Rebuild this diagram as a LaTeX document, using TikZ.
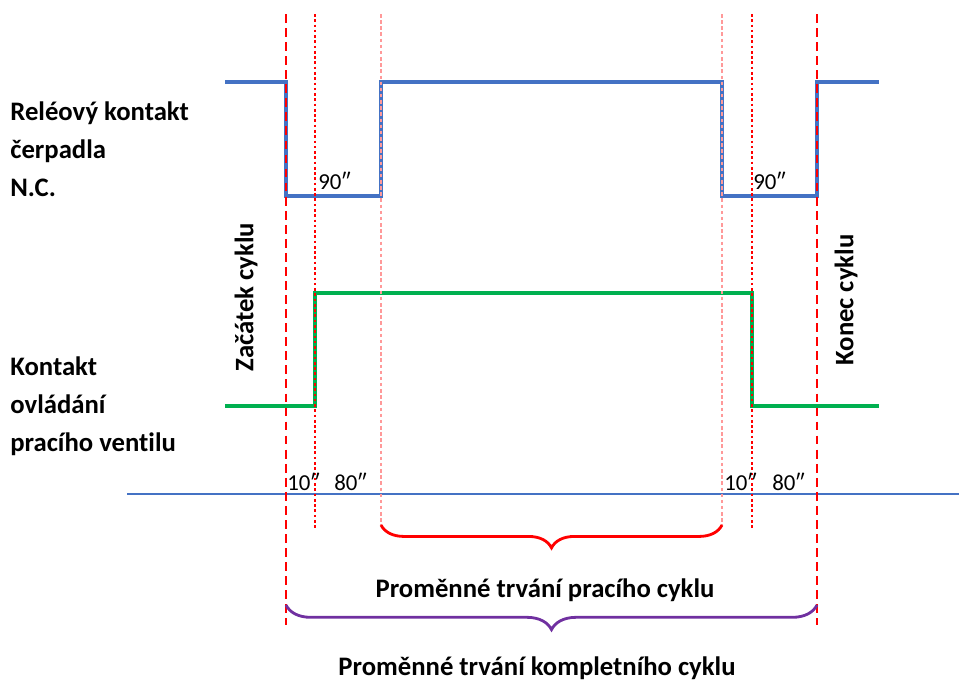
\documentclass[tikz,border=0pt]{standalone}
\usepackage{fontspec}
\setmainfont[Ligatures=NoCommon]{Carlito}
\usetikzlibrary{decorations.pathreplacing}
\definecolor{relayblue}{HTML}{4472C4}
\definecolor{valvegreen}{HTML}{00B050}
\definecolor{cyclered}{HTML}{FF0000}
\definecolor{cyclepink}{HTML}{FF9999}
\definecolor{cyclepurple}{HTML}{7030A0}
\tikzset{
  sigtext/.style={font=\fontsize{15.2}{21.6}\selectfont\bfseries, align=left, inner sep=0pt},
  timetext/.style={font=\fontsize{13}{15}\selectfont, inner sep=0pt},
  bigmark/.style={cyclered, line width=1.1pt, dash pattern=on 5pt off 3pt},
  smallmark/.style={cyclered, line width=0.6pt, dash pattern=on 1.5pt off 1.5pt},
  softmark/.style={cyclepink, line width=0.8pt, dash pattern=on 2pt off 1.5pt},
  bracemark/.style={decorate, decoration={brace, mirror, amplitude=#1}, line width=1.6pt}
}
\begin{document}
\begin{tikzpicture}[x=0.02cm, y=-0.02cm]
\useasboundingbox (0,0) rectangle (959,681);
%draw signals:
\draw [relayblue, line width=2.3pt] (225,82) -- (286,82) -- (286,196) -- (381,196)
  -- (381,82) -- (722,82) -- (722,196) -- (817,196) -- (817,82) -- (879,82);
\draw [valvegreen, line width=2.3pt] (225,406) -- (315,406) -- (315,293) -- (752,293)
  -- (752,406) -- (879,406);
\draw [relayblue, line width=0.6pt] (127,494) -- (959,494);
%draw time marks:
\coordinate (start) at (286,625);
\coordinate (stop) at (817,625);
\coordinate (washa) at (381,525);
\coordinate (washb) at (722,525);
\coordinate (alla) at (286,605);
\coordinate (allb) at (817,605);
\draw [bigmark] (286,14) -- (start);
\draw [bigmark] (817,14) -- (stop);
\draw [smallmark] (315,14) -- (315,530);
\draw [smallmark] (752,14) -- (752,530);
\draw [softmark] (381,14) -- (washa);
\draw [softmark] (722,14) -- (washb);
%draw braces:
\draw [bracemark=13pt, cyclered] (washa) -- (washb);
\draw [bracemark=14pt, cyclepurple] (alla) -- (allb);
%draw labels:
\node [sigtext, anchor=base west] (relay) at (10,196) {Reléový kontakt\\čerpadla\\N.C.};
\node [sigtext, anchor=base west] (valve) at (10,451) {Kontakt\\ovládání\\pracího ventilu};
\node [sigtext, rotate=90] (begin) at (246,297) {Začátek cyklu};
\node [sigtext, rotate=90] (end) at (846,300) {Konec cyklu};
\node [timetext, anchor=base west] (pa) at (318,189) {90″};
\node [timetext, anchor=base west] (pb) at (753,189) {90″};
\node [timetext, anchor=base west] (da) at (287,490) {10″};
\node [timetext, anchor=base west] (ea) at (334,490) {80″};
\node [timetext, anchor=base west] (db) at (724,490) {10″};
\node [timetext, anchor=base west] (eb) at (772,490) {80″};
\node [sigtext] (wash) at (545,590) {Proměnné trvání pracího cyklu};
\node [sigtext] (whole) at (537,668) {Proměnné trvání kompletního cyklu};
\end{tikzpicture}
\end{document}
